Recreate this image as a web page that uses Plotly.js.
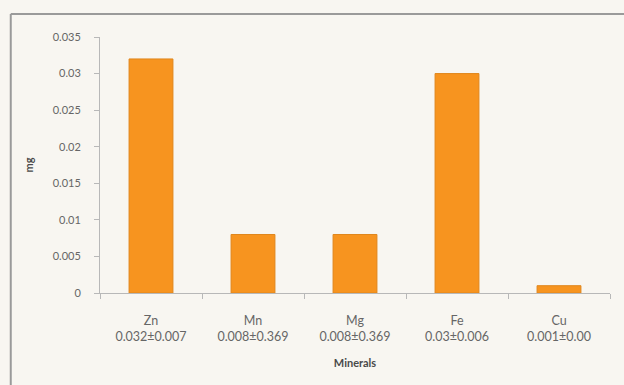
<!DOCTYPE html>
<html>
<head>
<meta charset="utf-8">
<script src="https://cdn.plot.ly/plotly-3.0.1.min.js"></script>
<style>
  html, body { margin: 0; padding: 0; background: #f8f6f1; }
  #chart { width: 624px; height: 385px; }
</style>
</head>
<body>
<div id="chart"></div>
<script>
// Mineral content (mg) with mean ± SD shown under each mineral name
const minerals = ['Zn', 'Mn', 'Mg', 'Fe', 'Cu'];
const stats = ['0.032±0.007', '0.008±0.369', '0.008±0.369', '0.03±0.006', '0.001±0.00'];
const values = [0.032, 0.008, 0.008, 0.03, 0.001];
const yTicks = [0, 0.005, 0.01, 0.015, 0.02, 0.025, 0.03, 0.035];

const tickText = minerals.map((m, i) => m + '<br>' + stats[i]);

const trace = {
  type: 'bar',
  x: minerals,
  y: values,
  width: 0.43,
  marker: {
    color: '#f7941f',
    line: { color: '#e0861c', width: 1 }
  },
  hoverinfo: 'x+y'
};

const fontFamily = 'Lato, "Open Sans", sans-serif';
const axisFont = { family: fontFamily, size: 11, color: '#666666' };

const layout = {
  width: 624,
  height: 385,
  margin: { l: 100, r: 14, t: 37, b: 92 },
  paper_bgcolor: '#f8f6f1',
  plot_bgcolor: '#f8f6f1',
  showlegend: false,
  bargap: 0.57,
  font: axisFont,
  xaxis: {
    tickmode: 'array',
    tickvals: minerals,
    ticktext: tickText,
    tickson: 'boundaries',
    ticks: 'outside',
    ticklen: 5,
    tickcolor: '#b8b8b8',
    showline: true,
    linecolor: '#b8b8b8',
    linewidth: 1,
    showgrid: false,
    zeroline: false,
    ticklabelstandoff: 16,
    tickfont: { family: fontFamily, size: 12.5, color: '#666666' },
    title: {
      text: '<b>Minerals</b>',
      font: { family: fontFamily, size: 11, color: '#4a4a4a' },
      standoff: 16
    }
  },
  yaxis: {
    range: [0, 0.035],
    tickmode: 'array',
    tickvals: yTicks,
    ticktext: yTicks.map(v => String(v)),
    ticks: 'outside',
    ticklen: 5,
    tickcolor: '#b8b8b8',
    showline: true,
    linecolor: '#b8b8b8',
    linewidth: 1,
    showgrid: false,
    zeroline: false,
    ticklabelstandoff: 11,
    tickfont: axisFont,
    title: {
      text: '<b>mg</b>',
      font: { family: fontFamily, size: 11, color: '#4a4a4a' },
      standoff: 16
    }
  },
  shapes: [
    // outer chart frame: left and top edges
    { type: 'line', xref: 'paper', yref: 'paper', x0: -0.175, x1: -0.175, y0: 1.09, y1: -0.4,
      line: { color: '#9a9a9a', width: 2 } },
    { type: 'line', xref: 'paper', yref: 'paper', x0: -0.175, x1: 1.03, y0: 1.09, y1: 1.09,
      line: { color: '#9a9a9a', width: 2 } }
  ]
};

Plotly.newPlot('chart', [trace], layout, { displayModeBar: false, staticPlot: true });
</script>
</body>
</html>
